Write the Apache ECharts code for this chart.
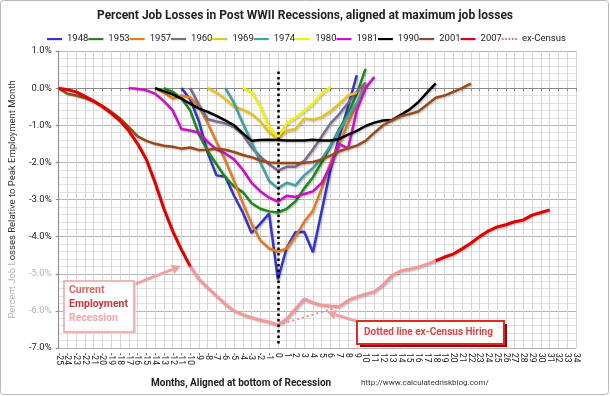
<!DOCTYPE html>
<html><head><meta charset="utf-8">
<script src="https://cdn.jsdelivr.net/npm/echarts@6/dist/echarts.min.js"></script>
<style>html,body{margin:0;padding:0;background:#fff}#c{width:610px;height:396px}</style>
</head><body><div id="c"></div>
<script>
const FONT = "Roboto, 'Open Sans', sans-serif";
const months = ['-25','-24','-23','-22','-21','-20','-19','-18','-17','-16','-15','-14','-13','-12','-11','-10','-9','-8','-7','-6','-5','-4','-3','-2','-1','0','1','2','3','4','5','6','7','8','9','10','11','12','13','14','15','16','17','18','19','20','21','22','23','24','25','26','27','28','29','30','31','32','33','34'];
const yTicks = [1,0,-1,-2,-3,-4,-5,-6,-7];

const start1948 = -11;
const v1948 = [0,-0.3,-0.9,-1.75,-2.35,-2.38,-2.9,-3.35,-3.9,-3.65,-3.38,-5.15,-4.3,-3.88,-3.87,-4.42,-3.3,-2.2,-1.3,-0.5,0.35];
const start1953 = -13;
const v1953 = [0,-0.1,-0.27,-0.6,-1.25,-1.7,-2.05,-2.4,-2.65,-2.8,-3.1,-3.25,-3.32,-3.35,-3.25,-3.05,-2.7,-2.4,-2.0,-1.55,-1.1,-0.7,-0.15,0.52];
const start1957 = -14;
const v1957 = [0,-0.12,-0.28,-0.2,-0.25,-0.5,-0.95,-1.45,-1.94,-2.5,-3.1,-3.65,-4.1,-4.32,-4.4,-4.32,-4.0,-3.6,-3.3,-2.7,-2.0,-1.5,-0.95,-0.42,0.15];
const start1960 = -10;
const v1960 = [0,-0.45,-0.84,-0.9,-0.95,-1.05,-1.25,-1.6,-1.85,-2.05,-2.22,-2.12,-2.12,-1.96,-1.65,-1.3,-0.95,-0.7,-0.4,-0.1,0.15];
const start1969 = -8;
const v1969 = [0,-0.12,-0.3,-0.5,-0.58,-0.7,-0.9,-1.2,-1.36,-1.15,-1.1,-0.82,-0.85,-0.78,-0.62,-0.42,-0.2,-0.12];
const start1974 = -6;
const v1974 = [0,-0.4,-0.95,-1.45,-2.0,-2.5,-2.7,-2.55,-2.62,-2.35,-2.15,-1.9,-1.55,-1.15,-0.75,-0.4,0.05];
const start1980 = -4;
const v1980 = [0,-0.1,-0.5,-1.05,-1.32,-0.95,-0.8,-0.62,-0.42,-0.15,0.03];
const start1981 = -17;
const v1981 = [0,-0.02,-0.06,-0.15,-0.35,-0.6,-1.1,-1.14,-1.2,-1.45,-1.65,-1.76,-1.92,-2.2,-2.55,-2.78,-2.95,-3.06,-2.9,-2.93,-2.85,-2.78,-2.55,-2.1,-1.5,-1.63,-0.6,0.0,0.3];
const start1990 = -14;
const v1990 = [0,-0.08,-0.17,-0.28,-0.42,-0.55,-0.64,-0.75,-0.87,-1.0,-1.22,-1.42,-1.4,-1.39,-1.4,-1.41,-1.41,-1.41,-1.39,-1.41,-1.41,-1.37,-1.25,-1.15,-1.02,-0.93,-0.87,-0.86,-0.72,-0.58,-0.38,-0.12,0.13];
const start2001 = -25;
const v2001 = [0,-0.15,-0.2,-0.27,-0.36,-0.48,-0.64,-0.82,-1.05,-1.3,-1.42,-1.5,-1.55,-1.58,-1.63,-1.6,-1.67,-1.66,-1.63,-1.66,-1.72,-1.8,-1.86,-1.95,-2.0,-2.02,-2.02,-2.02,-2.01,-1.99,-1.92,-1.82,-1.7,-1.62,-1.55,-1.42,-1.2,-1.0,-0.87,-0.76,-0.7,-0.63,-0.45,-0.26,-0.2,-0.1,0.0,0.12];
const start2007 = -25;
const v2007 = [0,-0.04,-0.1,-0.22,-0.35,-0.5,-0.68,-0.88,-1.15,-1.5,-1.92,-2.55,-3.25,-3.85,-4.35,-4.8,-5.15,-5.38,-5.6,-5.82,-6.0,-6.1,-6.18,-6.25,-6.3,-6.38,-6.22,-5.95,-5.68,-5.78,-5.85,-5.87,-5.88,-5.72,-5.62,-5.55,-5.48,-5.3,-5.05,-4.92,-4.88,-4.82,-4.74,-4.65,-4.55,-4.47,-4.33,-4.18,-4.0,-3.85,-3.74,-3.68,-3.6,-3.55,-3.42,-3.35,-3.28];
const startCensus = 0;
const vCensus = [-6.38,-6.31,-6.24,-6.17,-6.1,-6.03,-5.96,-5.88];

function place(start, vals) {
  const out = months.map(() => null);
  vals.forEach((v, i) => { const k = months.indexOf(String(start + i)); if (k >= 0) out[k] = v; });
  return out;
}
function keep(arr, ranges) {
  return arr.map((v, i) => { const m = Number(months[i]); return ranges.some(r => m >= r[0] && m <= r[1]) ? v : null; });
}
const d2007 = place(start2007, v2007);

const shadow = {shadowColor:'rgba(0,0,0,0.25)', shadowBlur:2, shadowOffsetX:1, shadowOffsetY:1};
function ser(name, data, color, extra) {
  return Object.assign({
    name, type:'line', data, symbol:'none', showSymbol:false, connectNulls:false,
    itemStyle:{color}, lineStyle:Object.assign({color, width:2.5}, shadow),
    emphasis:{disabled:true}, animation:false
  }, extra || {});
}

const series = [
  ser('1948', place(start1948, v1948), '#3434c8'),
  ser('1953', place(start1953, v1953), '#178a17'),
  ser('1957', place(start1957, v1957), '#e07c22'),
  ser('1960', place(start1960, v1960), '#7b6c8f'),
  ser('1969', place(start1969, v1969), '#e9c21f'),
  ser('1974', place(start1974, v1974), '#3fa0a6'),
  ser('1980', place(start1980, v1980), '#f2f200'),
  ser('1981', place(start1981, v1981), '#cc10c8'),
  ser('1990', place(start1990, v1990), '#000000'),
  ser('2001', place(start2001, v2001), '#9a4a18'),
  ser('2007 faded', keep(d2007, [[-10, 18]]), '#f29a9a', {lineStyle:Object.assign({color:'#f29a9a', width:3}, shadow)}),
  ser('2007', keep(d2007, [[-25, -10], [18, 31]]), '#e00000', {lineStyle:Object.assign({color:'#e00000', width:3}, shadow)}),
  ser('ex-Census', place(startCensus, vCensus), '#e03040', {
    lineStyle:{color:'#ef8a90', width:2, type:[2,3]},
    markLine:{silent:true, symbol:'none', animation:false, label:{show:false},
      lineStyle:{color:'#000', width:2.5, type:[2.5,3]},
      data:[[{coord:['0', 0.45]}, {coord:['0', -6.9]}]]}
  })
];

function arrow(x1, y1, x2, y2, color) {
  const dx = x2 - x1, dy = y2 - y1, L = Math.hypot(dx, dy), ux = dx / L, uy = dy / L;
  const bx = x2 - ux * 9, by = y2 - uy * 9, px = -uy * 5, py = ux * 5;
  return [
    {type:'line', z:100, shape:{x1, y1, x2:bx, y2:by}, style:{stroke:color, lineWidth:3}},
    {type:'polygon', z:100, shape:{points:[[x2, y2], [bx + px, by + py], [bx - px, by - py]]}, style:{fill:color}}
  ];
}

const lineIcon = 'path://M0,0L0,0M0,10L0,10M0,3.8h18v2.6H0z';
const dotIcon = 'path://M0,0L0,0M0,10L0,10M0,4h2v2H0zM4,4h2v2H4zM8,4h2v2H8zM12,4h2v2H12zM16,4h2v2H16z';
const legendNames = ['1948','1953','1957','1960','1969','1974','1980','1981','1990','2001','2007','ex-Census'];

const chart = echarts.init(document.getElementById('c'), null, {renderer:'canvas'});
chart.setOption({
  backgroundColor:'#fff',
  animation:false,
  textStyle:{fontFamily:FONT},
  title:[
    {text:'Percent Job Losses in Post WWII Recessions, aligned at maximum job losses', left:'center', top:5,
     textStyle:{fontSize:12, fontWeight:'bold', color:'#222', fontFamily:FONT}},
    {text:'Months, Aligned at bottom of Recession', left:146, top:373,
     textStyle:{fontSize:10, fontWeight:'bold', color:'#222', fontFamily:FONT}},
    {text:'http://www.calculatedriskblog.com/', left:356, top:374,
     textStyle:{fontSize:8, fontWeight:'normal', color:'#333', fontFamily:FONT}}
  ],
  legend:{
    data:legendNames.map(n => ({name:n, icon: n === 'ex-Census' ? dotIcon : lineIcon})),
    left:42, top:29, itemWidth:15, itemHeight:10, itemGap:0,
    textStyle:{fontSize:9.5, color:'#222', fontFamily:FONT}
  },
  grid:{left:51, right:34, top:51, bottom:48, containLabel:false},
  xAxis:{
    type:'category', data:months, boundaryGap:false,
    axisLine:{show:true, lineStyle:{color:'#888'}},
    axisTick:{show:true, interval:0, length:3, lineStyle:{color:'#888'}},
    axisLabel:{interval:0, rotate:-90, fontSize:8.5, color:'#222', margin:5, fontFamily:FONT},
    splitLine:{show:true, interval:0, lineStyle:{color:'#d6d6d6', width:1}}
  },
  yAxis:{
    type:'value', min:-7, max:1, interval:1,
    name:'{p|Percent Job L}{d|osses Relative to Peak Employment Month}',
    nameLocation:'middle', nameGap:37, nameRotate:90,
    nameTextStyle:{rich:{p:{color:'#b4b4b4', fontSize:9.5, fontFamily:FONT}, d:{color:'#333', fontSize:9.5, fontFamily:FONT}}},
    axisLine:{show:true, lineStyle:{color:'#888'}},
    axisTick:{show:true, length:3, lineStyle:{color:'#888'}},
    axisLabel:{fontSize:9.5, margin:7, fontFamily:FONT,
      formatter: v => v.toFixed(1) + '%',
      color: v => (Number(v) === -5 || Number(v) === -6) ? '#b4b4b4' : '#222'},
    splitLine:{show:true, lineStyle:{color:'#b4b4b4', width:1}},
    minorTick:{show:false, splitNumber:5},
    minorSplitLine:{show:true, lineStyle:{color:'#e2e2e2', width:1}}
  },
  series,
  graphic:[
    {type:'rect', z:100, shape:{x:0.5, y:0.5, width:608, height:394, r:3}, style:{fill:'none', stroke:'#b8b8b8', lineWidth:1}, silent:true},
    ...arrow(133, 285, 181, 266, '#f0a2a2'),
    ...arrow(362, 323, 327, 312, '#f0a2a2'),
    {type:'rect', z:100, shape:{x:66, y:283, width:70, height:51}, style:{fill:'#f5d5d5', stroke:'none'}},
    {type:'rect', z:101, shape:{x:64, y:281, width:70, height:51}, style:{fill:'#fff', stroke:'#eaa2a2', lineWidth:1.5}},
    {type:'text', z:102, left:69, top:285, style:{text:'Current', font:'bold 10.5px ' + FONT, fill:'#e46464'}},
    {type:'text', z:102, left:69, top:299, style:{text:'Employment', font:'bold 10.5px ' + FONT, fill:'#c83838'}},
    {type:'text', z:102, left:69, top:313, style:{text:'Recession', font:'bold 10.5px ' + FONT, fill:'#f0a8a8'}},
    {type:'rect', z:100, shape:{x:360, y:324, width:147, height:23}, style:{fill:'#a00000', stroke:'none'}},
    {type:'rect', z:101, shape:{x:357, y:321, width:147, height:23}, style:{fill:'#fff', stroke:'#e02a2a', lineWidth:2}},
    {type:'text', z:102, left:364, top:327, style:{text:'Dotted line ex-Census Hiring', font:'bold 10px ' + FONT, fill:'#e64444'}}
  ]
});
</script></body></html>
